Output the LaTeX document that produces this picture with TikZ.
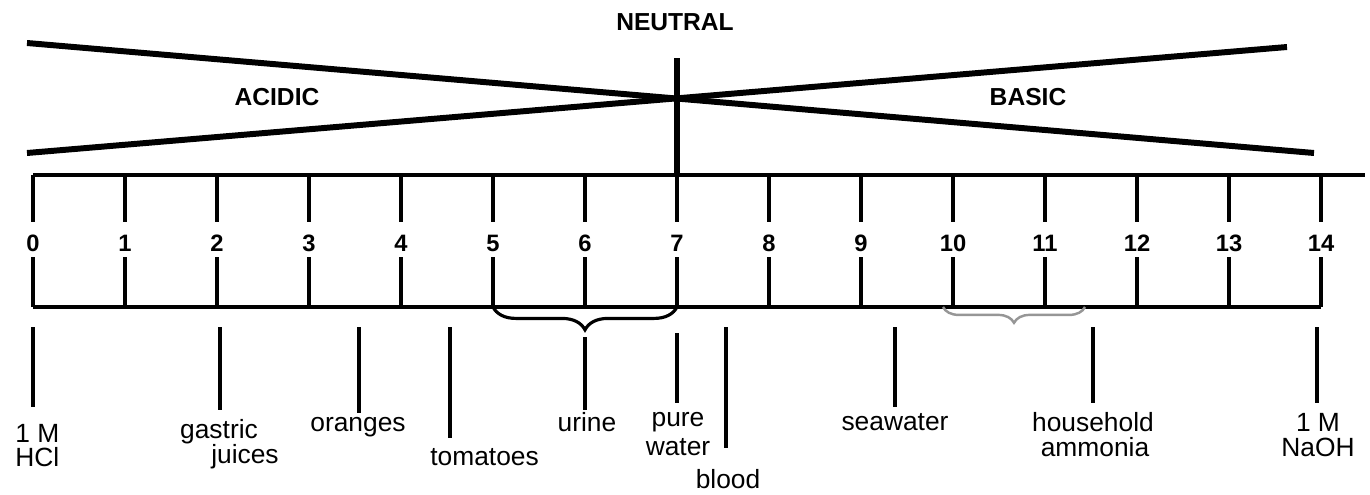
\documentclass[tikz,border=0pt]{standalone}
\usepackage{fontspec}
\setmainfont{Liberation Sans}
\usetikzlibrary{decorations.pathreplacing}
\definecolor{grey1}{RGB}{150,150,150}

\begin{document}
\begin{tikzpicture}[x=0.02cm,y=-0.02cm,
  wedge/.style={line width=3.4pt},
  rule/.style={line width=2.8pt},
  tickline/.style={line width=2.6pt},
  lead/.style={line width=2.4pt},
  num/.style={font=\bfseries\fontsize{13.5}{15}\selectfont},
  head/.style={font=\bfseries\fontsize{14}{16}\selectfont},
  lab/.style={font=\fontsize{15}{17}\selectfont, inner sep=0pt}]
\useasboundingbox (0,0) rectangle (1370,494);

% Wedges: acidic to the left, basic to the right
\coordinate (w1) at (27,43); \coordinate (w2) at (27,153);
\coordinate (w3) at (1287,47); \coordinate (w4) at (1314,153);
\draw[wedge] (w1)--(w4);
\draw[wedge] (w2)--(w3);
\node[head] (neutral) at (675,22) {NEUTRAL};
\node[head] (acidic) at (277,97) {ACIDIC};
\node[head] (basic) at (1028,97) {BASIC};

% Scale 0..14
\foreach \n in {0,...,14} {
  \coordinate (t\n) at (33+92*\n,175);
  \coordinate (b\n) at (33+92*\n,307);
  \draw[tickline] (t\n) -- ++(0,47);
  \draw[tickline] (b\n) -- ++(0,-50);
  \node[num] (num\n) at (33+92*\n,243) {\n};
}
\coordinate (tend) at (1365,175);
\draw[rule] (t0) -- (tend);
\draw[rule] (b0) -- (b14);
\coordinate (ntop) at (677,58);
\draw[wedge] (ntop) -- (t7);

% Braces under the scale
\draw[line width=1.8pt, decorate, decoration={brace, amplitude=13pt}] (b7) -- (b5);
\coordinate (g1) at (1085,307); \coordinate (g2) at (943,307);
\draw[grey1, line width=1.4pt, decorate, decoration={brace, amplitude=9pt}] (g1) -- (g2);

% Leader lines
\foreach \x/\y/\e/\n in {33/327/407/1,220/327/410/2,359/327/413/3,450/327/438/4,
  585/337/410/5,677/333/403/6,726/327/448/7,895/327/407/8,1093/327/403/9,1317/327/403/10} {
  \coordinate (p\n) at (\x,\y);
  \coordinate (q\n) at (\x,\e);
  \draw[lead] (p\n) -- (q\n);
}

% Labels
\node[lab, anchor=west] (hcla) at (15,433) {1 M};
\node[lab, anchor=west] (hclb) at (15,457) {HCl};
\node[lab] (gastric) at (219,432) {gastric};
\node[lab] (juices) at (245,457) {juices};
\node[lab] (oranges) at (358,427) {oranges};
\node[lab, anchor=west] (tomatoes) at (430,457) {tomatoes};
\node[lab] (urine) at (587,422) {urine};
\node[lab] (pure) at (678,422) {pure};
\node[lab] (water) at (678,447) {water};
\node[lab] (blood) at (728,479) {blood};
\node[lab] (seawater) at (895,422) {seawater};
\node[lab] (household) at (1093,422) {household};
\node[lab] (ammonia) at (1095,447) {ammonia};
\node[lab] (naoha) at (1318,422) {1 M};
\node[lab] (naohb) at (1318,447) {NaOH};

\end{tikzpicture}
\end{document}
